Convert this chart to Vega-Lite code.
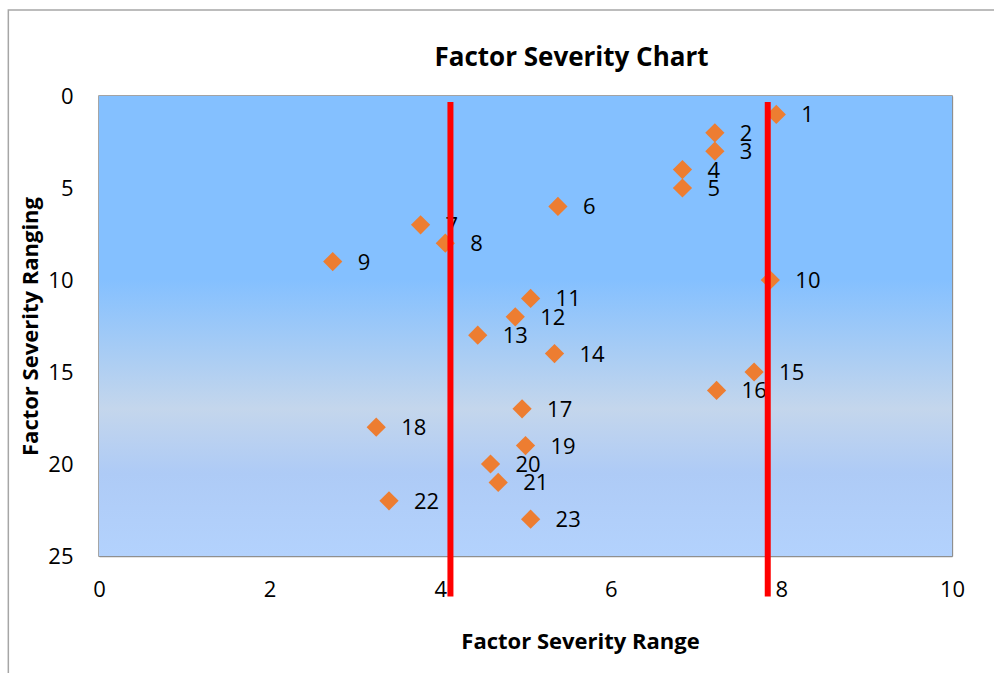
{
  "$schema": "https://vega.github.io/schema/vega-lite/v6.json",
  "width": 853,
  "height": 460,
  "autosize": {"type": "none"},
  "padding": {"left": 99, "top": 96, "right": 42, "bottom": 117},
  "background": "white",
  "title": {
    "text": "Factor Severity Chart",
    "font": "Open Sans",
    "fontSize": 26,
    "fontWeight": "bold",
    "color": "#000000",
    "anchor": "middle",
    "frame": "group",
    "dx": 46,
    "offset": -62
  },
  "datasets": {
    "points": [
      {"range": 7.94, "ranging": 1, "label": "1"},
      {"range": 7.22, "ranging": 2, "label": "2"},
      {"range": 7.22, "ranging": 3, "label": "3"},
      {"range": 6.84, "ranging": 4, "label": "4"},
      {"range": 6.84, "ranging": 5, "label": "5"},
      {"range": 5.38, "ranging": 6, "label": "6"},
      {"range": 3.77, "ranging": 7, "label": "7"},
      {"range": 4.06, "ranging": 8, "label": "8"},
      {"range": 2.74, "ranging": 9, "label": "9"},
      {"range": 7.87, "ranging": 10, "label": "10"},
      {"range": 5.06, "ranging": 11, "label": "11"},
      {"range": 4.88, "ranging": 12, "label": "12"},
      {"range": 4.44, "ranging": 13, "label": "13"},
      {"range": 5.34, "ranging": 14, "label": "14"},
      {"range": 7.68, "ranging": 15, "label": "15"},
      {"range": 7.24, "ranging": 16, "label": "16"},
      {"range": 4.96, "ranging": 17, "label": "17"},
      {"range": 3.25, "ranging": 18, "label": "18"},
      {"range": 5.0, "ranging": 19, "label": "19"},
      {"range": 4.59, "ranging": 20, "label": "20"},
      {"range": 4.68, "ranging": 21, "label": "21"},
      {"range": 3.4, "ranging": 22, "label": "22"},
      {"range": 5.06, "ranging": 23, "label": "23"}
    ],
    "limits": [
      {"x": 4.12, "top": 0.33, "bottom": 27.2},
      {"x": 7.84, "top": 0.33, "bottom": 27.2}
    ]
  },
  "config": {
    "font": "Open Sans",
    "view": {"stroke": "#8f8f8f", "strokeWidth": 1.5},
    "axis": {
      "domain": false,
      "ticks": false,
      "grid": true,
      "gridColor": "#8f8f8f",
      "gridWidth": 1.3,
      "labelFlush": false,
      "labelFont": "Open Sans",
      "labelFontSize": 22,
      "labelColor": "#000000",
      "titleFont": "Open Sans",
      "titleFontSize": 22,
      "titleFontWeight": "bold",
      "titleColor": "#000000"
    }
  },
  "layer": [
    {
      "data": {"values": [{}]},
      "mark": {
        "type": "rect",
        "clip": false,
        "fill": "transparent",
        "stroke": "#a6a6a6",
        "strokeWidth": 1.5
      },
      "encoding": {
        "x": {"datum": -1.063, "type": "quantitative"},
        "x2": {"datum": 12},
        "y": {"datum": -4.68, "type": "quantitative"},
        "y2": {"datum": 35}
      }
    },
    {
      "data": {"values": [{}]},
      "mark": {
        "type": "rect",
        "color": {
          "gradient": "linear",
          "x1": 0, "y1": 0, "x2": 0, "y2": 1,
          "stops": [
            {"offset": 0, "color": "#84c0ff"},
            {"offset": 0.4, "color": "#84c0ff"},
            {"offset": 0.68, "color": "#c4d6ec"},
            {"offset": 0.82, "color": "#aecbf6"},
            {"offset": 1, "color": "#b3d2fd"}
          ]
        }
      },
      "encoding": {
        "x": {"datum": 0, "type": "quantitative"},
        "x2": {"datum": 10},
        "y": {"datum": 0, "type": "quantitative"},
        "y2": {"datum": 25}
      }
    },
    {
      "data": {"name": "points"},
      "mark": {"type": "point", "shape": "diamond", "filled": true, "color": "#ed7d31", "opacity": 1, "size": 370},
      "encoding": {
        "x": {
          "field": "range", "type": "quantitative",
          "scale": {"domain": [0, 10], "nice": false, "zero": false},
          "axis": {"title": "Factor Severity Range", "values": [0, 2, 4, 6, 8, 10], "format": "d", "labelPadding": 23, "titlePadding": 31, "titleX": 481}
        },
        "y": {
          "field": "ranging", "type": "quantitative",
          "scale": {"domain": [0, 25], "reverse": true, "nice": false},
          "axis": {"title": "Factor Severity Ranging", "values": [0, 5, 10, 15, 20, 25], "format": "d", "labelPadding": 26, "titlePadding": 5}
        }
      }
    },
    {
      "data": {"name": "points"},
      "mark": {"type": "text", "align": "left", "baseline": "middle", "dx": 25, "dy": 1, "fontSize": 22, "color": "#000000"},
      "encoding": {
        "x": {"field": "range", "type": "quantitative"},
        "y": {"field": "ranging", "type": "quantitative"},
        "text": {"field": "label"}
      }
    },
    {
      "data": {"name": "limits"},
      "mark": {"type": "rule", "color": "#ff0000", "strokeWidth": 6, "clip": false},
      "encoding": {
        "x": {"field": "x", "type": "quantitative"},
        "y": {"field": "top", "type": "quantitative"},
        "y2": {"field": "bottom"}
      }
    }
  ]
}
